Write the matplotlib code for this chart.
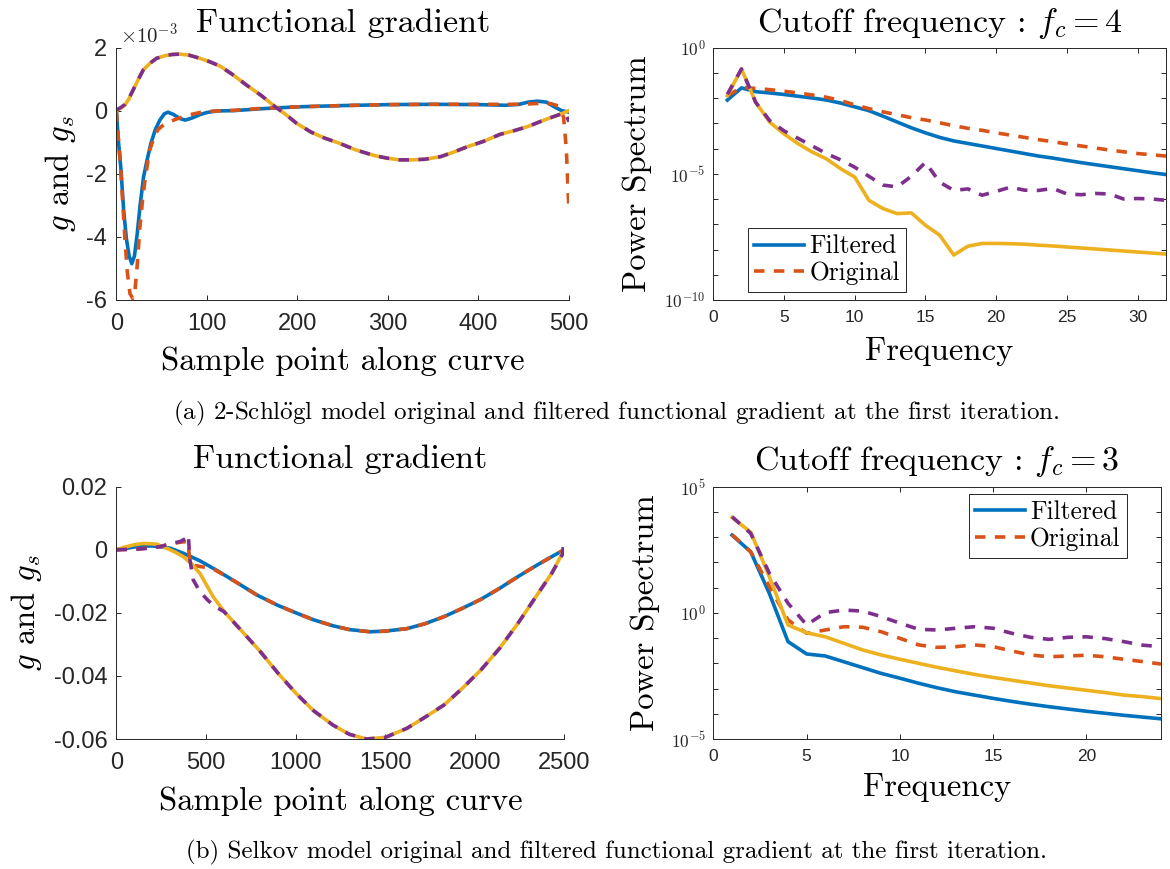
import matplotlib
matplotlib.use('Agg')
import matplotlib.pyplot as plt
import numpy as np
from matplotlib.ticker import FixedLocator, NullLocator

plt.rcParams['mathtext.fontset'] = 'cm'
plt.rcParams['font.family'] = ['Liberation Sans', 'DejaVu Sans']
plt.rcParams['axes.unicode_minus'] = False

BLUE = '#0072BD'
ORANGE = '#D95319'
YELLOW = '#EDB120'
PURPLE = '#7E2F8E'
AXC = '#262626'

# ---------------- (a) 2-Schlogl: functional gradient (units of 1e-3) ----------------
a_blue_x = [0, 2, 5, 8, 11, 14, 17, 20, 23, 26, 30, 34, 38, 43, 48, 53, 57, 63, 70, 76, 83, 92, 100,
            111, 130, 160, 200, 250, 300, 350, 400, 430, 445, 455, 465, 475, 485, 492, 500]
a_blue_y = [0, -0.9, -1.85, -3.15, -4.05, -4.6, -4.85, -4.6, -3.9, -3.05, -2.1, -1.55, -1.05, -0.6,
            -0.3, -0.1, -0.05, -0.12, -0.25, -0.3, -0.24, -0.13, -0.06, -0.01, 0.0, 0.06, 0.12, 0.16,
            0.19, 0.2, 0.19, 0.17, 0.2, 0.27, 0.3, 0.27, 0.1, 0.0, -0.05]

a_orange_x = [0, 2, 4, 7, 9.5, 12, 15, 18, 20.5, 23, 26, 29, 31.6, 34, 37, 42, 46, 52, 57, 65, 74, 83,
              92, 100, 111, 130, 160, 200, 250, 300, 350, 400, 430, 450, 460, 470, 480, 488, 494, 497, 500]
a_orange_y = [0, -0.8, -1.5, -2.9, -4.1, -5.1, -5.8, -5.95, -5.7, -4.9, -3.67, -2.8, -2.2, -1.75, -1.24,
              -0.8, -0.6, -0.45, -0.38, -0.28, -0.19, -0.12, -0.06, -0.03, -0.01, 0.01, 0.07, 0.12,
              0.16, 0.19, 0.2, 0.2, 0.2, 0.2, 0.22, 0.23, 0.22, 0.15, -0.2, -1.2, -3.2]

a_yellow_x = [0, 5, 9.5, 14, 18.7, 24, 29.7, 37, 44.5, 55, 62, 70, 80, 92, 103, 114.5, 128, 143.7, 160,
              175, 187, 199, 215, 230, 246, 265, 285.7, 300, 313, 327, 341, 358, 372, 388, 405, 424,
              440, 455, 468, 480, 490, 500]
a_yellow_y = [0, 0.08, 0.18, 0.38, 0.66, 0.98, 1.29, 1.5, 1.66, 1.75, 1.78, 1.79, 1.76, 1.66, 1.55,
              1.41, 1.15, 0.81, 0.48, 0.13, -0.12, -0.4, -0.68, -0.87, -1.03, -1.25, -1.43, -1.51,
              -1.56, -1.56, -1.54, -1.46, -1.32, -1.14, -0.98, -0.75, -0.63, -0.5, -0.35, -0.22,
              -0.12, 0.0]

a_purple_x = [0, 5, 9.5, 14, 18.7, 24, 29.7, 37, 44.5, 55, 62, 70, 80, 92, 103, 114.5, 128, 143.7, 160,
              175, 187, 199, 215, 230, 246, 265, 285.7, 300, 313, 327, 341, 358, 372, 388, 405, 424,
              440, 455, 468, 480, 490, 496, 500]
a_purple_y = [0.02, 0.1, 0.2, 0.4, 0.67, 0.98, 1.29, 1.5, 1.66, 1.75, 1.78, 1.79, 1.76, 1.66, 1.55,
              1.41, 1.15, 0.81, 0.48, 0.13, -0.12, -0.4, -0.68, -0.87, -1.03, -1.25, -1.43, -1.51,
              -1.56, -1.56, -1.54, -1.46, -1.32, -1.14, -0.98, -0.75, -0.63, -0.5, -0.35, -0.22,
              -0.12, -0.08, -0.35]

# ---------------- (a) power spectrum (log10 values) ----------------
a_freq = list(range(1, 33))
a_ps_blue = [-2.08, -1.6, -1.75, -1.8, -1.86, -1.93, -2.0, -2.08, -2.2, -2.35, -2.5, -2.72, -2.95,
             -3.18, -3.38, -3.56, -3.7, -3.8, -3.9, -4.0, -4.1, -4.2, -4.3, -4.38, -4.47, -4.56,
             -4.64, -4.72, -4.8, -4.88, -4.96, -5.03]
a_ps_orange = [-1.91, -1.58, -1.62, -1.67, -1.73, -1.8, -1.88, -1.97, -2.1, -2.27, -2.42, -2.55,
               -2.66, -2.78, -2.87, -2.98, -3.1, -3.2, -3.28, -3.38, -3.47, -3.56, -3.65, -3.73,
               -3.82, -3.9, -3.98, -4.06, -4.13, -4.2, -4.25, -4.3]
a_ps_yellow = [-1.91, -0.85, -2.17, -2.96, -3.42, -3.81, -4.14, -4.41, -4.8, -5.13, -6.05, -6.38,
               -6.58, -6.55, -7.04, -7.43, -8.22, -7.87, -7.76, -7.76, -7.77, -7.79, -7.83, -7.86,
               -7.9, -7.94, -7.98, -8.02, -8.06, -8.1, -8.14, -8.18]
a_ps_purple = [-1.85, -0.85, -2.17, -2.9, -3.3, -3.6, -3.9, -4.2, -4.45, -4.74, -5.1, -5.45, -5.52,
               -5.1, -4.55, -5.33, -5.66, -5.6, -5.85, -5.7, -5.53, -5.65, -5.66, -5.58, -5.8,
               -5.83, -5.78, -5.8, -6.0, -5.98, -6.0, -6.05]

# ---------------- (b) Selkov: functional gradient ----------------
b_blue_x = [0, 50, 100, 150, 200, 250, 300, 373, 466, 550, 652, 783, 900, 1002, 1100, 1209, 1300,
            1415, 1500, 1622, 1720, 1829, 1930, 2035, 2140, 2242, 2350, 2430, 2500]
b_blue_y = [0, 0.0004, 0.0009, 0.0012, 0.0012, 0.0009, 0.0005, -0.0011, -0.0035, -0.0062, -0.0097,
            -0.0143, -0.0176, -0.0200, -0.0222, -0.0241, -0.0253, -0.026, -0.0258, -0.025, -0.0235,
            -0.0212, -0.0186, -0.0157, -0.0122, -0.0085, -0.0048, -0.0022, 0.0]

b_orange_x = [0, 50, 100, 150, 200, 250, 280, 336, 370, 401, 405, 410, 440, 466, 500, 550, 652, 783,
              900, 1002, 1100, 1209, 1300, 1415, 1500, 1622, 1720, 1829, 1930, 2035, 2140, 2242,
              2350, 2430, 2500]
b_orange_y = [0, 0.0001, 0.0002, 0.0004, 0.0007, 0.0011, 0.0015, 0.0022, 0.0025, 0.0026, -0.001,
              -0.0043, -0.005, -0.0053, -0.0056, -0.0064, -0.0097, -0.0143, -0.0176, -0.0200,
              -0.0222, -0.0241, -0.0253, -0.026, -0.0258, -0.025, -0.0235, -0.0212, -0.0186,
              -0.0157, -0.0122, -0.0085, -0.0048, -0.0022, 0.0]

b_yellow_x = [0, 50, 100, 150, 224, 280, 330, 373, 420, 466, 541, 600, 700, 796, 900, 1002, 1100,
              1209, 1300, 1395, 1500, 1622, 1720, 1829, 1930, 2035, 2140, 2242, 2350, 2430, 2500]
b_yellow_y = [0, 0.0009, 0.0016, 0.002, 0.0018, 0.0005, -0.0008, -0.0022, -0.0045, -0.0075, -0.015,
              -0.0195, -0.0258, -0.0318, -0.0390, -0.0455, -0.0510, -0.0556, -0.0585, -0.060,
              -0.0595, -0.0566, -0.0532, -0.0492, -0.0440, -0.0381, -0.0312, -0.0233, -0.0142,
              -0.0075, 0.0]

b_purple_x = [0, 50, 113, 180, 243, 308, 355, 385, 401, 405, 410, 429, 466, 510, 550, 600, 700, 796,
              900, 1002, 1100, 1209, 1300, 1395, 1500, 1622, 1720, 1829, 1930, 2035, 2140, 2242,
              2350, 2430, 2490, 2500]
b_purple_y = [0, 0.0001, 0.0002, 0.0005, 0.001, 0.002, 0.0026, 0.0035, 0.0047, 0.001, -0.0032,
              -0.0096, -0.0133, -0.016, -0.018, -0.0196, -0.0258, -0.0318, -0.0390, -0.0455,
              -0.0510, -0.0556, -0.0585, -0.060, -0.0595, -0.0566, -0.0532, -0.0492, -0.0440,
              -0.0381, -0.0312, -0.0233, -0.0142, -0.0075, -0.0015, 0.0033]

# ---------------- (b) power spectrum (log10 values) ----------------
b_freq = list(range(1, 25))
b_ps_blue = [3.08, 2.42, 0.77, -1.14, -1.63, -1.71, -1.94, -2.17, -2.4, -2.59, -2.79, -2.97, -3.13,
             -3.26, -3.39, -3.51, -3.62, -3.72, -3.81, -3.9, -3.98, -4.06, -4.13, -4.2]
b_ps_orange = [3.1, 2.42, 1.04, -0.28, -0.81, -0.68, -0.55, -0.57, -0.75, -1.01, -1.27, -1.37,
               -1.34, -1.27, -1.34, -1.51, -1.67, -1.74, -1.71, -1.68, -1.74, -1.84, -1.93, -2.03]
b_ps_yellow = [3.78, 3.2, 1.43, -0.48, -0.79, -0.95, -1.21, -1.47, -1.67, -1.84, -2.0, -2.16, -2.3,
               -2.44, -2.56, -2.67, -2.78, -2.89, -2.98, -3.07, -3.16, -3.26, -3.32, -3.4]
b_ps_purple = [3.81, 3.15, 1.57, 0.38, -0.48, 0.01, 0.11, 0.07, -0.15, -0.41, -0.65, -0.68, -0.61,
               -0.55, -0.61, -0.81, -0.97, -1.05, -0.97, -0.95, -1.02, -1.14, -1.28, -1.34]

# tick labels
a_xticks = [0, 100, 200, 300, 400, 500]
a_yticks = [-6, -4, -2, 0, 2]
a_yticklabels = ['-6', '-4', '-2', '0', '2']
b_xticks = [0, 500, 1000, 1500, 2000, 2500]
b_yticks = [-0.06, -0.04, -0.02, 0, 0.02]
b_yticklabels = ['-0.06', '-0.04', '-0.02', '0', '0.02']
a_fticks = [0, 5, 10, 15, 20, 25, 30]
b_fticks = [0, 5, 10, 15, 20]

TITLE_FS = 24.5
LABEL_FS = 23.5
LEG_FS = 18.4
CAP_FS = 18
LW = 2.6
DASH = (0, (2.9, 2.6))
SERIF = 'cmr10'

fig = plt.figure(figsize=(11.7, 8.69), dpi=100)
W, H = 1170.0, 869.0


def add_axes(left, top, right, bottom):
    return fig.add_axes([left / W, 1 - bottom / H, (right - left) / W, (bottom - top) / H])


def style(ax, box, tsize, xpad, ypad):
    ax.spines['top'].set_visible(box)
    ax.spines['right'].set_visible(box)
    for s in ax.spines.values():
        s.set_color(AXC)
        s.set_linewidth(0.7)
    ax.tick_params(axis='both', which='both', direction='in', length=3.5, width=0.7, color=AXC,
                   labelcolor=AXC, labelsize=tsize, top=box, right=box)
    ax.tick_params(axis='x', pad=xpad)
    ax.tick_params(axis='y', pad=ypad)


def log_axis(ax, lo, hi):
    ax.set_yscale('log')
    ax.set_ylim(10.0 ** lo, 10.0 ** hi)
    exps = np.arange(lo, hi + 1)
    ax.yaxis.set_major_locator(FixedLocator(10.0 ** exps))
    ax.yaxis.set_minor_locator(NullLocator())
    ax.set_yticklabels([r'$\mathsf{10^{%d}}$' % e if e % 5 == 0 else '' for e in exps], fontsize=10.5)


# ---- top-left ----
ax1 = add_axes(116.4, 47.5, 569.0, 300.0)
ax1.plot(a_blue_x, a_blue_y, color=BLUE, lw=LW)
ax1.plot(a_orange_x, a_orange_y, color=ORANGE, lw=LW, ls=DASH)
ax1.plot(a_yellow_x, a_yellow_y, color=YELLOW, lw=LW)
ax1.plot(a_purple_x, a_purple_y, color=PURPLE, lw=LW, ls=DASH)
ax1.set_xlim(0, 500)
ax1.set_ylim(-6, 2)
ax1.set_xticks(a_xticks)
ax1.set_yticks(a_yticks)
ax1.set_yticklabels(a_yticklabels)
style(ax1, False, 17, 9.5, 6.5)
ax1.set_title('Functional gradient', fontfamily=SERIF, fontsize=TITLE_FS, pad=11)
ax1.set_xlabel('Sample point along curve', fontfamily=SERIF, fontsize=LABEL_FS, va='center')
ax1.xaxis.set_label_coords(0.5, -0.242)
ax1.set_ylabel(r'$g$ and $g_s$', fontfamily=SERIF, fontsize=LABEL_FS, va='center')
ax1.yaxis.set_label_coords(-0.123, 0.5)
fig.text(120 / W, 1 - 35 / H, r'$\times\mathsf{10^{-3}}$', fontsize=15, color=AXC, ha='left', va='center')

# ---- top-right ----
ax2 = add_axes(713.2, 47.5, 1166.0, 300.0)
l1, = ax2.plot(a_freq, 10.0 ** np.array(a_ps_blue), color=BLUE, lw=LW, label='Filtered')
l2, = ax2.plot(a_freq, 10.0 ** np.array(a_ps_orange), color=ORANGE, lw=LW, ls=DASH, label='Original')
ax2.plot(a_freq, 10.0 ** np.array(a_ps_yellow), color=YELLOW, lw=LW)
ax2.plot(a_freq, 10.0 ** np.array(a_ps_purple), color=PURPLE, lw=LW, ls=DASH)
ax2.set_xlim(0, 32)
ax2.set_xticks(a_fticks)
log_axis(ax2, -10, 0)
style(ax2, True, 12.5, 7, 5.5)
ax2.set_title(r'Cutoff frequency : $f_c = 4$', fontfamily=SERIF, fontsize=TITLE_FS, pad=11.5)
ax2.set_xlabel('Frequency', fontfamily=SERIF, fontsize=LABEL_FS, va='center')
ax2.xaxis.set_label_coords(0.5, -0.202)
ax2.set_ylabel('Power Spectrum', fontfamily=SERIF, fontsize=LABEL_FS, va='center')
ax2.yaxis.set_label_coords(-0.168, 0.5)
leg = ax2.legend(handles=[l1, l2], loc='lower left', bbox_to_anchor=(0.0766, 0.033), borderaxespad=0,
                 prop={'family': SERIF, 'size': LEG_FS}, fancybox=False, framealpha=1,
                 edgecolor=AXC, handlelength=1.95, handletextpad=0.2, labelspacing=0.12,
                 borderpad=0.25)
leg.get_frame().set_linewidth(0.7)

# ---- bottom-left ----
ax3 = add_axes(116.5, 486.7, 564.2, 739.0)
ax3.plot(b_blue_x, b_blue_y, color=BLUE, lw=LW)
ax3.plot(b_orange_x, b_orange_y, color=ORANGE, lw=LW, ls=DASH)
ax3.plot(b_yellow_x, b_yellow_y, color=YELLOW, lw=LW)
ax3.plot(b_purple_x, b_purple_y, color=PURPLE, lw=LW, ls=DASH)
ax3.set_xlim(0, 2500)
ax3.set_ylim(-0.06, 0.02)
ax3.set_xticks(b_xticks)
ax3.set_yticks(b_yticks)
ax3.set_yticklabels(b_yticklabels)
style(ax3, False, 17, 9.5, 6.5)
ax3.set_title('Functional gradient', fontfamily=SERIF, fontsize=TITLE_FS, pad=13.5)
ax3.set_xlabel('Sample point along curve', fontfamily=SERIF, fontsize=LABEL_FS, va='center')
ax3.xaxis.set_label_coords(0.5, -0.246)
ax3.set_ylabel(r'$g$ and $g_s$', fontfamily=SERIF, fontsize=LABEL_FS, va='center')
ax3.yaxis.set_label_coords(-0.2, 0.5)

# ---- bottom-right ----
ax4 = add_axes(713.4, 486.7, 1161.0, 739.0)
m1, = ax4.plot(b_freq, 10.0 ** np.array(b_ps_blue), color=BLUE, lw=LW, label='Filtered')
m2, = ax4.plot(b_freq, 10.0 ** np.array(b_ps_orange), color=ORANGE, lw=LW, ls=DASH, label='Original')
ax4.plot(b_freq, 10.0 ** np.array(b_ps_yellow), color=YELLOW, lw=LW)
ax4.plot(b_freq, 10.0 ** np.array(b_ps_purple), color=PURPLE, lw=LW, ls=DASH)
ax4.set_xlim(0, 24)
ax4.set_xticks(b_fticks)
log_axis(ax4, -5, 5)
style(ax4, True, 12.5, 7, 5.5)
ax4.set_title(r'Cutoff frequency : $f_c = 3$', fontfamily=SERIF, fontsize=TITLE_FS, pad=12)
ax4.set_xlabel('Frequency', fontfamily=SERIF, fontsize=LABEL_FS, va='center')
ax4.xaxis.set_label_coords(0.5, -0.192)
ax4.set_ylabel('Power Spectrum', fontfamily=SERIF, fontsize=LABEL_FS, va='center')
ax4.yaxis.set_label_coords(-0.152, 0.5)
leg2 = ax4.legend(handles=[m1, m2], loc='upper right', bbox_to_anchor=(0.924, 0.97), borderaxespad=0,
                  prop={'family': SERIF, 'size': LEG_FS}, fancybox=False, framealpha=1,
                  edgecolor=AXC, handlelength=1.95, handletextpad=0.2, labelspacing=0.12,
                  borderpad=0.25)
leg2.get_frame().set_linewidth(0.7)

# ---- captions ----
fig.text(616 / W, 1 - 413 / H,
         r'(a) 2-Schl$\ddot{\mathrm{o}}$gl model original and filtered functional gradient at the first iteration.',
         fontfamily=SERIF, fontsize=CAP_FS, ha='center', va='center')
fig.text(616 / W, 1 - 852 / H,
         '(b) Selkov model original and filtered functional gradient at the first iteration.',
         fontfamily=SERIF, fontsize=CAP_FS, ha='center', va='center')

fig.savefig('out.png', dpi=100)
